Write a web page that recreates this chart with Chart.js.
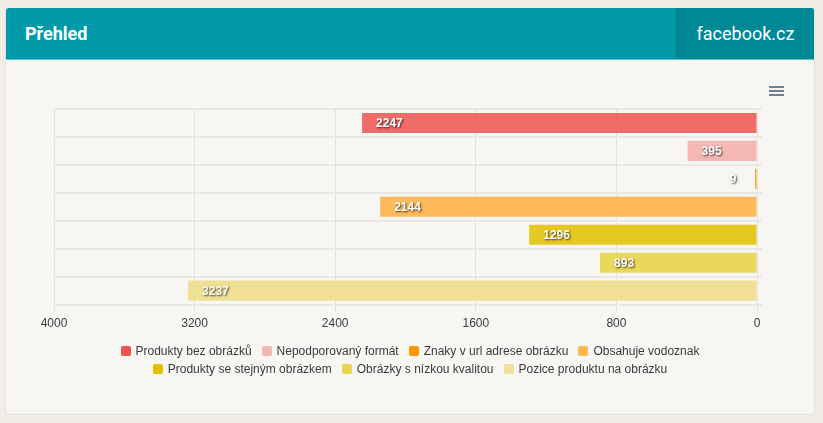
<!DOCTYPE html>
<html lang="cs">
<head>
<meta charset="utf-8">
<title>Přehled</title>
<script src="https://cdn.jsdelivr.net/npm/chart.js@4"></script>
<style>
    html, body { margin: 0; padding: 0; width: 823px; height: 423px; overflow: hidden; background: #f1eee8; }
    .card { position: absolute; left: 5px; top: 8px; width: 808px; height: 406px; background: #f7f6f2; border: 1px solid #e4e3df; border-top: 0; border-radius: 3px; }
    .head { position: absolute; left: 0; top: 0; width: 808px; height: 51px; background: #009aa9; border-bottom: 1px solid #5cc3cd; box-sizing: content-box; border-radius: 3px 3px 0 0; color: #fff; font-family: Roboto, sans-serif; }
    .title { position: absolute; left: 19px; top: 13px; font-size: 18px; line-height: 25px; font-weight: 700; }
    .site { position: absolute; right: 0; top: 0; width: 137px; height: 51px; background: #008896; border-left: 1px solid #007f8c; text-align: center; font-size: 18px; line-height: 51px; font-weight: 400; border-radius: 0 3px 0 0; }
    #chart { position: absolute; left: 0; top: 0; }
    .menu { position: absolute; left: 769px; top: 86px; width: 15px; }
    .menu i { display: block; height: 2px; background: #6e8192; margin-bottom: 2px; }
    #legend { position: absolute; left: 58.5px; top: 342px; width: 703px; display: flex; flex-wrap: wrap; justify-content: center; font: 12px "Liberation Sans", Arial, sans-serif; color: #373d3f; }
    #legend span { display: inline-flex; align-items: center; height: 18px; margin: 0 5px 0 5px; white-space: nowrap; }
    #legend b { width: 10px; height: 10px; border-radius: 2px; margin-right: 5px; }
</style>
</head>
<body>
<div class="card">
    <div class="head">
        <div class="title">Přehled</div>
        <div class="site">facebook.cz</div>
    </div>
</div>
<canvas id="chart" width="823" height="423"></canvas>
<div class="menu"><i></i><i></i><i></i></div>
<div id="legend"></div>
<script>
const categories = ['Produkty bez obrázků', 'Nepodporovaný formát', 'Znaky v url adrese obrázku', 'Obsahuje vodoznak', 'Produkty se stejným obrázkem', 'Obrázky s nízkou kvalitou', 'Pozice produktu na obrázku'];
const values = [2247, 395, 9, 2144, 1296, 893, 3237];
const legendColors = ['#ef5350', '#f4b6b3', '#ff9800', '#ffb74d', '#e3c100', '#e9d454', '#f0e09a'];
const barColors = ['#ef5350d9', '#f4aba8d9', '#ff9800d9', '#ffae3fd9', '#e3c000d9', '#e9d13ed9', '#eedc86d9'];

// value labels sit inside the bar, or left of it when the bar is too short
const valueLabels = {
    id: 'valueLabels',
    afterDatasetsDraw(chart) {
        const ctx = chart.ctx;
        const meta = chart.getDatasetMeta(0);
        ctx.save();
        ctx.font = 'bold 12px "Liberation Sans", Arial, sans-serif';
        ctx.fillStyle = '#fff';
        ctx.textBaseline = 'middle';
        ctx.shadowColor = 'rgba(0,0,0,0.75)';
        ctx.shadowOffsetX = 1;
        ctx.shadowOffsetY = 1;
        ctx.shadowBlur = 2;
        meta.data.forEach(function (bar, i) {
            const text = String(values[i]);
            const w = ctx.measureText(text).width;
            let x = bar.x + 14;
            if (x + w > bar.base) {
                x = bar.x - 22 - w / 2;
            }
            ctx.fillText(text, x, bar.y + 1);
        });
        ctx.restore();
    }
};

new Chart(document.getElementById('chart'), {
    type: 'bar',
    data: {
        labels: categories,
        datasets: [{
            data: values,
            backgroundColor: barColors,
            barPercentage: 0.72,
            categoryPercentage: 1,
            minBarLength: 2
        }]
    },
    options: {
        indexAxis: 'y',
        responsive: false,
        animation: false,
        layout: { padding: { left: 54, right: 61, top: 109, bottom: 87 } },
        plugins: {
            legend: { display: false },
            tooltip: { enabled: false }
        },
        scales: {
            x: {
                reverse: true,
                min: 0,
                max: 4000,
                ticks: {
                    stepSize: 800,
                    color: '#373d3f',
                    maxRotation: 0,
                    padding: 5,
                    font: { family: '"Liberation Sans", Arial, sans-serif', size: 12 },
                    callback: function (value) {
                        return String(value);
                    }
                },
                grid: { color: '#e3e2de', lineWidth: 1, tickLength: 7 },
                border: { display: false }
            },
            y: {
                position: 'right',
                ticks: { display: false },
                grid: { color: '#e9e8e4', lineWidth: 2, tickLength: 5 },
                border: { color: '#e3e2de', width: 1 }
            }
        }
    },
    plugins: [valueLabels]
});

const legend = document.getElementById('legend');
categories.forEach(function (name, i) {
    const item = document.createElement('span');
    const box = document.createElement('b');
    box.style.background = legendColors[i];
    item.appendChild(box);
    item.appendChild(document.createTextNode(name));
    legend.appendChild(item);
});
</script>
</body>
</html>
